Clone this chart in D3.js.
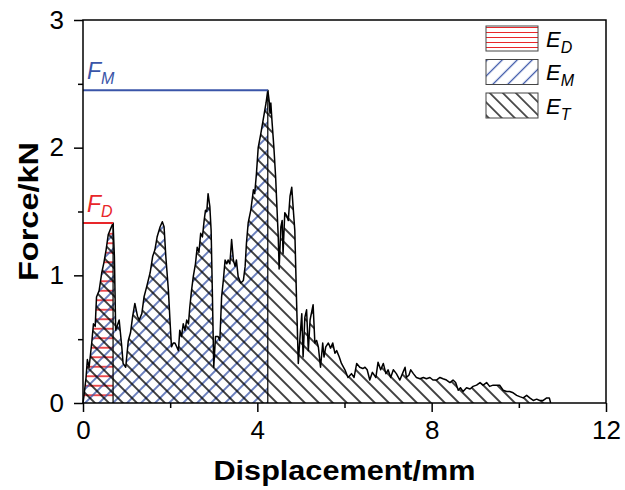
<!DOCTYPE html>
<html>
<head>
<meta charset="utf-8">
<script src="https://cdn.jsdelivr.net/npm/d3@7"></script>
<style>
body { margin: 0; background: #fff; }
svg { display: block; font-family: "Liberation Sans", Arial, sans-serif; }
</style>
</head>
<body>
<svg id="chart" width="625" height="490"></svg>
<script>
// curve: displacement in mm, force in kN
var displacement = [
  0.00, 0.02, 0.07, 0.10, 0.14, 0.20, 0.24, 0.28, 0.31, 0.37, 0.43, 0.48, 0.53, 0.58, 0.64, 0.69,
  0.72, 0.75, 0.83, 0.89, 0.92, 0.98, 1.04, 1.09, 1.14, 1.19, 1.25, 1.29, 1.35, 1.40, 1.46, 1.54,
  1.60, 1.65, 1.70, 1.77, 1.82, 1.86, 1.90, 1.96, 2.00, 2.03, 2.07,
  2.11, 2.19, 2.22, 2.26, 2.30, 2.34, 2.38, 2.42, 2.45, 2.49, 2.53, 2.58, 2.62, 2.66, 2.70, 2.74,
  2.78, 2.81, 2.84, 2.87, 2.91, 2.94, 2.97, 3.00,
  3.04, 3.10, 3.14, 3.18, 3.22, 3.26, 3.30, 3.33, 3.37, 3.41, 3.45, 3.49, 3.52, 3.56, 3.62, 3.68,
  3.72, 3.75, 3.79, 3.85, 3.91, 3.94, 3.98, 4.02, 4.08, 4.12, 4.16, 4.20, 4.24,
  4.27, 4.29, 4.31, 4.34, 4.38, 4.42, 4.44, 4.48, 4.50, 4.54, 4.57, 4.59, 4.63, 4.67, 4.71, 4.75,
  4.79, 4.82, 4.86, 4.90, 4.94,
  4.98, 5.02, 5.05, 5.09, 5.13, 5.17, 5.21, 5.28, 5.32, 5.36, 5.40, 5.45, 5.50, 5.53, 5.57, 5.63,
  5.68, 5.73, 5.78, 5.82, 5.88, 5.93,
  6.01, 6.08, 6.16, 6.22, 6.28, 6.35, 6.42, 6.47, 6.52, 6.58, 6.64, 6.72, 6.77, 6.83, 6.89, 6.95,
  7.00, 7.06, 7.12, 7.19, 7.27, 7.33, 7.39, 7.42, 7.48, 7.52, 7.58, 7.65, 7.73, 7.81, 7.88, 7.96,
  8.03, 8.11, 8.19, 8.26, 8.34, 8.42, 8.49, 8.55, 8.61, 8.66, 8.72, 8.80, 8.88, 8.95, 9.03, 9.11,
  9.18, 9.26, 9.33, 9.41, 9.49, 9.56, 9.64, 9.72, 9.79, 9.87, 9.95,
  10.02, 10.10, 10.18, 10.25, 10.33, 10.41, 10.48, 10.56, 10.64, 10.70, 10.73
];
var force = [
  0.00, 0.05, 0.20, 0.34, 0.28, 0.47, 0.62, 0.60, 0.83, 0.88, 1.02, 1.10, 1.20, 1.32, 1.37, 1.41,
  1.15, 0.57, 0.65, 0.44, 0.31, 0.28, 0.49, 0.55, 0.68, 0.78, 0.68, 0.65, 0.70, 0.83, 0.91, 1.02,
  1.15, 1.20, 1.30, 1.38, 1.42, 1.38, 1.15, 0.88, 0.62, 0.44, 0.47,
  0.47, 0.41, 0.57, 0.52, 0.62, 0.57, 0.65, 0.62, 0.75, 0.88, 0.99, 1.09, 1.22, 1.18, 1.33, 1.30,
  1.43, 1.51, 1.50, 1.64, 1.54, 1.35, 0.83, 0.28,
  0.52, 0.52, 0.49, 0.83, 0.96, 1.12, 1.09, 1.12, 1.09, 1.28, 1.12, 1.07, 1.12, 0.99, 0.94, 0.96,
  1.07, 1.25, 1.41, 1.51, 1.67, 1.64, 1.80, 2.00, 2.11, 2.19, 2.27, 2.35, 2.45,
  2.37, 2.27, 2.35, 2.19, 2.00, 1.77, 1.61, 1.30, 1.05, 1.38, 1.43, 1.17, 1.49, 1.47, 1.43, 1.62,
  1.69, 1.54, 1.35, 0.80, 0.31,
  0.52, 0.70, 0.36, 0.67, 0.73, 0.41, 0.65, 0.77, 0.47, 0.49, 0.44, 0.28, 0.47, 0.36, 0.44, 0.47,
  0.43, 0.47, 0.39, 0.41, 0.36, 0.31,
  0.26, 0.20, 0.23, 0.20, 0.31, 0.28, 0.27, 0.28, 0.26, 0.18, 0.24, 0.20, 0.32, 0.26, 0.31, 0.23,
  0.26, 0.20, 0.26, 0.23, 0.18, 0.23, 0.28, 0.20, 0.22, 0.26, 0.23, 0.20, 0.19, 0.20, 0.19, 0.20,
  0.18, 0.18, 0.20, 0.19, 0.18, 0.16, 0.18, 0.16, 0.10, 0.12, 0.09, 0.12, 0.11, 0.13, 0.14, 0.16,
  0.14, 0.16, 0.13, 0.14, 0.14, 0.14, 0.10, 0.09, 0.09, 0.08, 0.06,
  0.05, 0.04, 0.06, 0.04, 0.02, 0.03, 0.02, 0.02, 0.04, 0.04, 0.00
];

// ends of the E_D and E_M regions (mm)
var xD = 0.69;
var xM = 4.24;

var xTicks = [0, 4, 8, 12];
var xMinor = [2, 6, 10];
var yTicks = [0, 1, 2, 3];
var yMinor = [0.5, 1.5, 2.5];

var legendKeys = ["D", "M", "T"];

var red = "#e8262a";
var blue = "#3a55a8";

drawChart();

function drawChart() {
	var svg = d3.select("#chart");
	var margin = {top: 20, right: 19, bottom: 87, left: 83},
	    width = 625 - margin.left - margin.right,
	    height = 490 - margin.top - margin.bottom;

	var defs = svg.append("defs");
	// hatch: horizontal line, rotated by angle
	function hatch(id, size, angle, color, sw) {
		var p = defs.append("pattern")
		    .attr("id", id)
		    .attr("patternUnits", "userSpaceOnUse")
		    .attr("width", size)
		    .attr("height", size)
		    .attr("patternTransform", "rotate(" + angle + ")");
		p.append("line")
		    .attr("x1", 0).attr("x2", size)
		    .attr("y1", size / 2).attr("y2", size / 2)
		    .attr("stroke", color)
		    .attr("stroke-width", sw);
	}
	hatch("hatchD", 9.5, 0, red, 1.6);
	hatch("hatchM", 9.9, -45, blue, 1.5);
	hatch("hatchT", 9.9, 45, "#000", 1.5);
	hatch("legD", 5, 0, red, 1);
	hatch("legM", 10.6, -45, blue, 1.3);
	hatch("legT", 9.2, 45, "#000", 1.3);

	var g = svg.append("g").attr("transform", "translate(" + margin.left + "," + margin.top + ")");

	var x = d3.scaleLinear().domain([0, 12]).range([0, width]);
	var y = d3.scaleLinear().domain([0, 3]).range([height, 0]);

	var data = displacement.map(function(d, i) { return {x: d, f: force[i]}; });
	var dataD = data.filter(function(d) { return d.x <= xD; });
	var dataM = data.filter(function(d) { return d.x <= xM; });
	var FD = d3.max(dataD, function(d) { return d.f; });
	var FM = d3.max(data, function(d) { return d.f; });

	var area = d3.area()
	    .x(function(d) { return x(d.x); })
	    .y0(height)
	    .y1(function(d) { return y(d.f); });
	var line = d3.line()
	    .x(function(d) { return x(d.x); })
	    .y(function(d) { return y(d.f); });

	g.append("path").datum(dataD).attr("d", area).attr("fill", "url(#hatchD)");
	g.append("path").datum(dataM).attr("d", area).attr("fill", "url(#hatchM)");
	g.append("path").datum(data).attr("d", area).attr("fill", "url(#hatchT)");

	// region borders
	[[xD, FD], [xM, FM]].forEach(function(b) {
		g.append("line")
		    .attr("x1", x(b[0])).attr("x2", x(b[0]))
		    .attr("y1", height).attr("y2", y(b[1]))
		    .attr("stroke", "#000").attr("stroke-width", 1.2);
	});

	g.append("path")
	    .datum(data)
	    .attr("d", line)
	    .attr("fill", "none")
	    .attr("stroke", "#000")
	    .attr("stroke-width", 1.5)
	    .attr("stroke-linejoin", "round");

	// F_D and F_M levels
	g.append("line")
	    .attr("x1", 0).attr("x2", x(xD))
	    .attr("y1", y(FD)).attr("y2", y(FD))
	    .attr("stroke", red).attr("stroke-width", 2);
	g.append("line")
	    .attr("x1", 0).attr("x2", x(xM))
	    .attr("y1", y(FM)).attr("y2", y(FM))
	    .attr("stroke", blue).attr("stroke-width", 2);

	function subLabel(sel, px, py, main, sub, color, size, subSize, shift) {
		var t = sel.append("text")
		    .attr("x", px).attr("y", py)
		    .attr("fill", color)
		    .attr("font-style", "italic")
		    .attr("font-size", size);
		t.append("tspan").text(main);
		t.append("tspan").attr("dy", shift).attr("font-size", subSize).text(sub);
	}
	subLabel(g, 4, y(FD) - 11, "F", "D", red, 23, 16, 5);
	subLabel(g, 4, y(FM) - 11, "F", "M", blue, 23, 16, 5);

	// axes
	var xAxis = g.append("g")
	    .attr("class", "axis axis--x")
	    .attr("transform", "translate(0," + height + ")")
	    .call(d3.axisBottom(x).tickValues(xTicks).tickSize(9).tickSizeOuter(0).tickPadding(9).tickFormat(d3.format("d")));
	var xMin = g.append("g")
	    .attr("transform", "translate(0," + height + ")")
	    .call(d3.axisBottom(x).tickValues(xMinor).tickSize(5).tickSizeOuter(0).tickFormat(""));
	var yAxis = g.append("g")
	    .attr("class", "axis axis--y")
	    .call(d3.axisLeft(y).tickValues(yTicks).tickSize(9).tickSizeOuter(0).tickPadding(10).tickFormat(d3.format("d")));
	var yMin = g.append("g")
	    .call(d3.axisLeft(y).tickValues(yMinor).tickSize(5).tickSizeOuter(0).tickFormat(""));

	[xAxis, xMin, yAxis, yMin].forEach(function(a) {
		a.select(".domain").remove();
		a.selectAll(".tick line").attr("stroke-width", 1.5);
		a.selectAll("text")
		    .attr("font-size", 26)
		    .attr("font-family", "'Liberation Sans', Arial, sans-serif")
		    .attr("fill", "#000");
	});

	g.append("rect")
	    .attr("width", width)
	    .attr("height", height)
	    .attr("fill", "none")
	    .attr("stroke", "#000")
	    .attr("stroke-width", 1.5);

	g.append("text")
	    .attr("x", width / 2)
	    .attr("y", height + 77)
	    .attr("text-anchor", "middle")
	    .attr("font-size", 27)
	    .attr("font-weight", "bold")
	    .attr("textLength", 262)
	    .attr("lengthAdjust", "spacingAndGlyphs")
	    .text("Displacement/mm");

	g.append("text")
	    .attr("transform", "translate(-45," + (height / 2) + ") rotate(-90)")
	    .attr("text-anchor", "middle")
	    .attr("font-size", 27)
	    .attr("font-weight", "bold")
	    .attr("textLength", 139)
	    .attr("lengthAdjust", "spacingAndGlyphs")
	    .text("Force/kN");

	// legend
	var pats = {D: "legD", M: "legM", T: "legT"};
	legendKeys.forEach(function(k, i) {
		var top = 26 + i * 33.5;
		svg.append("rect")
		    .attr("x", 486).attr("y", top)
		    .attr("width", 52).attr("height", 25)
		    .attr("fill", "url(#" + pats[k] + ")")
		    .attr("stroke", "#444")
		    .attr("stroke-width", 1);
		subLabel(svg, 546, top + 20.5, "E", k, "#000", 22, 16, 6);
	});
}
</script>
</body>
</html>
